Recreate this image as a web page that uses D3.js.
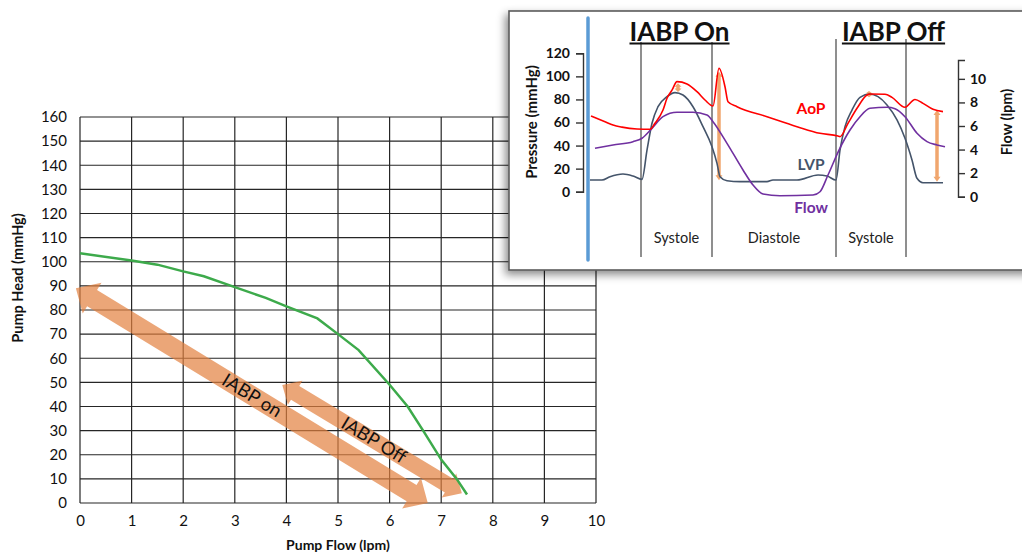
<!DOCTYPE html>
<html><head><meta charset="utf-8">
<script src="https://cdn.jsdelivr.net/npm/d3@7"></script>
<style>
html,body{margin:0;padding:0;background:#fff;overflow:hidden}
svg{display:block}
</style></head><body>
<svg id="chart" width="1022" height="554"></svg>
<script>
// ---------- main chart data ----------
const flowTicks = [0,1,2,3,4,5,6,7,8,9,10];
const headTicks = [0,10,20,30,40,50,60,70,80,90,100,110,120,130,140,150,160];
const pumpFlow = [0, 1, 1.5, 2, 2.4, 3, 3.6, 4, 4.6, 5, 5.4, 6, 6.35, 6.65, 7, 7.3, 7.5];
const pumpHead = [103.5, 100.5, 98.8, 96, 94, 89.5, 85, 81.5, 76.5, 70, 63.4, 49, 40, 30, 18, 10, 3.5];
const arrowNames = ["IABP on", "IABP Off"];
const arrowStartFlow = [-0.08, 3.92];
const arrowStartHead = [89, 48.9];
const arrowEndFlow = [6.74, 7.40];
const arrowEndHead = [0, 4.0];

// ---------- inset data ----------
const pressureTicks = [0,20,40,60,80,100,120];
const flowRateTicks = [0,2,4,6,8,10];
const aopT = [3,17,25,34,49,62,67,75,79,84,89,99,109,117,125,131,137,140,149,179,209,232,250,252,260,269,279,282,297,304,317,327,335,345,355];
const aopP = [65.6,60.7,57.8,56,54.4,54.1,59.3,70.8,81,88,95.4,93.4,86.7,79.5,74.3,107,91,78,73.7,65,56.4,50.6,48.3,47.7,59.3,72.3,83.8,84.7,84.5,81.8,73.2,80,76.6,71.4,69.4];
const lvpT = [2,14,22,35,45,54,59,64,70,79,87,95,105,115,124,129,132,139,152,179,185,209,230,239,248,252,257,264,272,282,290,299,309,317,324,329,335,355];
const lvpP = [10.1,10.1,13,15.3,13.6,10.7,36,59.3,73.7,82.4,85.9,83.8,73.7,56.4,39,24.6,13,9.5,8.7,8.7,10.1,10.1,14.5,13.6,10.1,36,56.4,70.8,81.8,84.7,82.4,75.2,62.2,46.3,27.5,11.6,7.8,7.8];
const flowT = [7,25,45,54,64,75,89,105,119,125,139,155,165,175,192,225,232,240,251,262,272,282,299,307,317,329,339,349,357];
const flowV = [4.11,4.39,4.67,4.96,5.8,6.79,7.16,7.16,6.94,6.37,4.53,2.27,0.99,0.23,0.08,0.14,0.42,1.84,3.96,5.66,6.79,7.5,7.59,7.47,6.79,5.38,4.67,4.39,4.24];
const phaseLineT = [53, 124, 248, 318];
const phaseNames = ["Systole", "Diastole", "Systole"];
const modeTitles = ["IABP On", "IABP Off"];
const seriesNames = ["AoP", "LVP", "Flow"];
const gapArrowT = [90, 131, 281, 349];
const gapArrowLo = [86.5, 10, 82, 8.7];
const gapArrowHi = [94, 104, 87.3, 70.8];

const svg = d3.select("#chart");
const FONT = "Lato, 'Open Sans', sans-serif";

// ---------- main chart ----------
const x = d3.scaleLinear().domain([0,10]).range([80,596]);
const y = d3.scaleLinear().domain([0,160]).range([503,117]);
const main = svg.append("g");

main.append("g").selectAll("line.v").data(flowTicks).join("line")
  .attr("x1", d => x(d)).attr("x2", d => x(d)).attr("y1", y(0)).attr("y2", y(160))
  .attr("stroke", "#262626").attr("stroke-width", 1.2);
main.append("g").selectAll("line.h").data(headTicks).join("line")
  .attr("x1", x(0)).attr("x2", x(10)).attr("y1", d => y(d)).attr("y2", d => y(d))
  .attr("stroke", "#262626").attr("stroke-width", 1.2);

const yAxis = d3.axisLeft(y).tickValues(headTicks).tickSize(0).tickPadding(13);
main.append("g").attr("transform", `translate(${x(0)},0)`).call(yAxis)
  .call(g => g.select(".domain").remove())
  .selectAll("text").attr("font-family", FONT).attr("font-size", 15).attr("fill", "#111");
const xAxis = d3.axisBottom(x).tickValues(flowTicks).tickSize(0).tickPadding(12);
main.append("g").attr("transform", `translate(0,${y(0)})`).call(xAxis)
  .call(g => g.select(".domain").remove())
  .selectAll("text").attr("font-family", FONT).attr("font-size", 15).attr("fill", "#111");

main.append("text").attr("transform", `translate(23,278) rotate(-90)`)
  .attr("text-anchor", "middle").attr("font-family", FONT).attr("font-weight", "bold")
  .attr("font-size", 14.5).attr("fill", "#111").text("Pump Head (mmHg)");
main.append("text").attr("x", 338).attr("y", 550)
  .attr("text-anchor", "middle").attr("font-family", FONT).attr("font-weight", "bold")
  .attr("font-size", 14).attr("fill", "#111").text("Pump Flow (lpm)");

// double arrow polygon
function dblArrow(p0, p1, s, h, L) {
  const dx = p1[0]-p0[0], dy = p1[1]-p0[1], len = Math.hypot(dx,dy);
  const u = [dx/len, dy/len], n = [-u[1], u[0]];
  const P = (b, a, k) => [b[0]+u[0]*a+n[0]*k, b[1]+u[1]*a+n[1]*k];
  return [p0, P(p0,L,h), P(p0,L,s), P(p1,-L,s), P(p1,-L,h), p1, P(p1,-L,-h), P(p1,-L,-s), P(p0,L,-s), P(p0,L,-h)];
}
const arrowStyle = [{s:9.5,h:18,L:19},{s:8,h:14,L:15}];
arrowNames.forEach((name, i) => {
  const p0 = [x(arrowStartFlow[i]), y(arrowStartHead[i])];
  const p1 = [x(arrowEndFlow[i]), y(arrowEndHead[i])];
  const st = arrowStyle[i];
  main.append("polygon")
    .attr("points", dblArrow(p0, p1, st.s, st.h, st.L).map(p => p.join(",")).join(" "))
    .attr("fill", "#E2803F").attr("fill-opacity", 0.7);
});

// pump curve
main.append("path").datum(pumpFlow.map((f,i) => [f, pumpHead[i]]))
  .attr("d", d3.line().x(d => x(d[0])).y(d => y(d[1])))
  .attr("fill", "none").attr("stroke", "#3DAA4B").attr("stroke-width", 2.5);

// arrow labels
const labelShift = [0.5, 0.51];
arrowNames.forEach((name, i) => {
  const p0 = [x(arrowStartFlow[i]), y(arrowStartHead[i])];
  const p1 = [x(arrowEndFlow[i]), y(arrowEndHead[i])];
  const ang = Math.atan2(p1[1]-p0[1], p1[0]-p0[0]) * 180/Math.PI;
  const t = labelShift[i];
  const cx = p0[0] + (p1[0]-p0[0])*t, cy = p0[1] + (p1[1]-p0[1])*t;
  main.append("text")
    .attr("transform", `translate(${cx},${cy}) rotate(${ang})`)
    .attr("text-anchor", "middle").attr("dy", "0.33em")
    .attr("font-family", FONT).attr("font-size", 18.5).attr("fill", "#111").text(name);
});

// ---------- inset ----------
const defs = svg.append("defs");
const flt = defs.append("filter").attr("id", "shadow").attr("x", "-10%").attr("y", "-10%").attr("width", "130%").attr("height", "130%");
flt.append("feDropShadow").attr("dx", -3).attr("dy", 4).attr("stdDeviation", 4)
  .attr("flood-color", "#000").attr("flood-opacity", 0.45);

const inset = svg.append("g");
inset.append("rect").attr("x", 509).attr("y", 11).attr("width", 540).attr("height", 259)
  .attr("fill", "#fff").attr("stroke", "#5a5a5a").attr("stroke-width", 1.6)
  .attr("filter", "url(#shadow)");

const tx = d3.scaleLinear().domain([0,360]).range([588,948]);
const py = d3.scaleLinear().domain([0,120]).range([191.7,53.3]);
const fy = d3.scaleLinear().domain([0,11.6]).range([196.7,60]);

// phase lines
inset.selectAll("line.phase").data(phaseLineT).join("line")
  .attr("x1", d => tx(d)).attr("x2", d => tx(d)).attr("y1", (d,i) => i < 2 ? 42 : 39).attr("y2", 257)
  .attr("stroke", "#333").attr("stroke-width", 1.1);

// blue bar
inset.append("line").attr("x1", 588).attr("x2", 588).attr("y1", 18).attr("y2", 260)
  .attr("stroke", "#5B9BD5").attr("stroke-width", 3.5).attr("stroke-linecap", "round");

// axes
const pAxis = d3.axisLeft(py).tickValues(pressureTicks).tickSize(7).tickPadding(6);
inset.append("g").attr("transform", "translate(583,0)").call(pAxis)
  .call(g => g.selectAll("line,path").attr("stroke", "#333").attr("stroke-width", 1.4))
  .selectAll("text").attr("font-family", FONT).attr("font-weight", "bold").attr("font-size", 14).attr("fill", "#111");
const fAxis = d3.axisRight(fy).tickValues(flowRateTicks).tickSize(7).tickPadding(5);
inset.append("g").attr("transform", "translate(958,0)").call(fAxis)
  .call(g => g.selectAll("line,path").attr("stroke", "#333").attr("stroke-width", 1.4))
  .selectAll("text").attr("font-family", FONT).attr("font-weight", "bold").attr("font-size", 14).attr("fill", "#111");

inset.append("text").attr("transform", "translate(537,122) rotate(-90)")
  .attr("text-anchor", "middle").attr("font-family", FONT).attr("font-weight", "bold")
  .attr("font-size", 15).attr("fill", "#111").text("Pressure (mmHg)");
inset.append("text").attr("transform", "translate(1012,122) rotate(-90)")
  .attr("text-anchor", "middle").attr("font-family", FONT).attr("font-weight", "bold")
  .attr("font-size", 14.5).attr("fill", "#111").text("Flow (lpm)");

// titles
const titleX = [679.5, 893.5];
modeTitles.forEach((t, i) => {
  const tt = inset.append("text").attr("x", titleX[i]).attr("y", 41)
    .attr("text-anchor", "middle").attr("font-family", FONT).attr("font-weight", "bold")
    .attr("font-size", 26).attr("fill", "#111").text(t);
  const w = tt.node().getComputedTextLength();
  inset.append("line").attr("x1", titleX[i]-w/2).attr("x2", titleX[i]+w/2)
    .attr("y1", 43.5).attr("y2", 43.5).attr("stroke", "#111").attr("stroke-width", 1.8);
});

// phase names
phaseNames.forEach((n, i) => {
  inset.append("text").attr("x", tx((phaseLineT[i]+phaseLineT[i+1])/2)).attr("y", 243)
    .attr("text-anchor", "middle").attr("font-family", FONT).attr("font-size", 14.5)
    .attr("fill", "#222").text(n);
});

// gap arrows (orange, behind lines)
const gapColor = "#F0A66E";
gapArrowT.forEach((t, i) => {
  const xx = tx(t), y0 = py(gapArrowHi[i]), y1 = py(gapArrowLo[i]);
  const hl = Math.min(5, (y1-y0)/2.5);
  inset.append("line").attr("x1", xx).attr("x2", xx).attr("y1", y0+hl*0.8).attr("y2", y1-hl*0.8)
    .attr("stroke", gapColor).attr("stroke-width", 3.5);
  inset.append("path").attr("d", `M${xx},${y0}L${xx-3.5},${y0+hl}L${xx+3.5},${y0+hl}Z M${xx},${y1}L${xx-3.5},${y1-hl}L${xx+3.5},${y1-hl}Z`)
    .attr("fill", gapColor);
});

const lineGen = (T, V, sc) => d3.line().curve(d3.curveMonotoneX)
  .x((d,i) => tx(T[i])).y((d,i) => sc(V[i]))(V);
inset.append("path").attr("d", lineGen(lvpT, lvpP, py)).attr("fill", "none").attr("stroke", "#44546A").attr("stroke-width", 1.6);
inset.append("path").attr("d", lineGen(flowT, flowV, fy)).attr("fill", "none").attr("stroke", "#7030A0").attr("stroke-width", 1.6);
inset.append("path").attr("d", lineGen(aopT, aopP, py)).attr("fill", "none").attr("stroke", "#FF0000").attr("stroke-width", 1.6);

// series labels
const seriesColors = ["#FF0000", "#44546A", "#7030A0"];
const seriesLabelY = [114, 170, 213];
seriesNames.forEach((n, i) => {
  inset.append("text").attr("x", 811).attr("y", seriesLabelY[i]).attr("text-anchor", "middle")
    .attr("font-family", FONT).attr("font-weight", "bold").attr("font-size", 15.5)
    .attr("fill", seriesColors[i]).text(n);
});
</script>
</body></html>
